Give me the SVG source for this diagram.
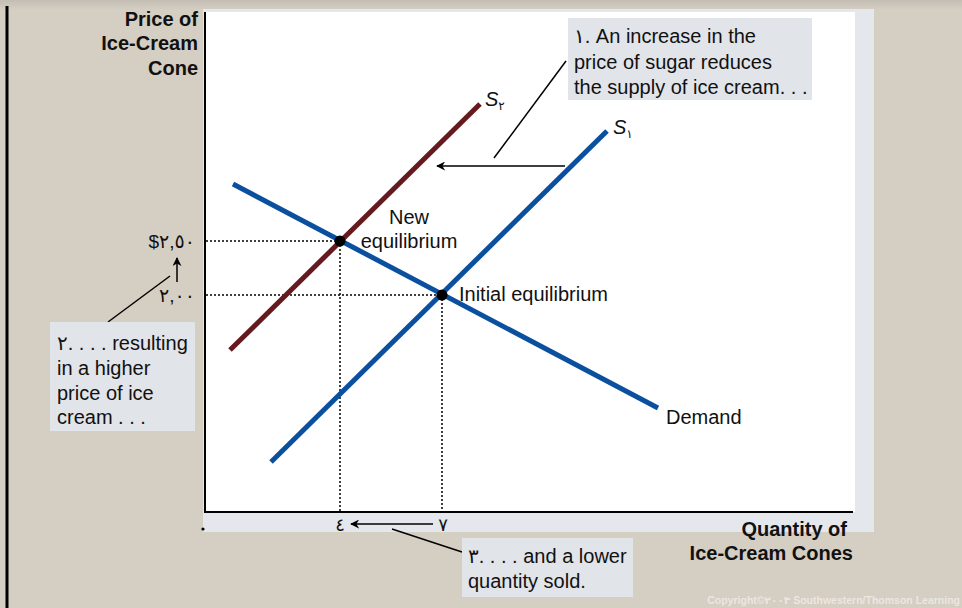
<svg xmlns="http://www.w3.org/2000/svg" width="962" height="608" viewBox="0 0 962 608">
<defs>
<linearGradient id="topg" x1="0" y1="0" x2="0" y2="1"><stop offset="0" stop-color="#c3bdb3"/><stop offset="1" stop-color="#d5cec3"/></linearGradient>
<marker id="ah" viewBox="0 0 10 10" refX="9" refY="5" markerWidth="9" markerHeight="9" markerUnits="userSpaceOnUse" orient="auto"><path d="M0,0 L10,5 L0,10 L3,5 z" fill="#000"/></marker>
</defs>
<style>
text{font-family:"Liberation Sans","DejaVu Sans",Arial,sans-serif;fill:#111;}
.lbl{font-size:20px;}
.b{font-size:20px;font-weight:bold;}
.box{fill:#e1e4e9;}
.dot{stroke:#000;stroke-width:1.5;stroke-dasharray:2 2;fill:none;}
.thin{stroke:#000;stroke-width:1.5;fill:none;}
.curve{stroke-width:5;fill:none;}
</style>
<rect width="962" height="608" fill="#d5cec3"/>
<rect width="962" height="10" fill="url(#topg)"/>
<line x1="7" y1="6" x2="7" y2="608" stroke="#000" stroke-width="3"/>
<rect x="203" y="9" width="671" height="523" fill="#e4e7ec"/>
<rect x="204" y="12" width="651" height="500" fill="#fff"/>
<g id="axes">
<line x1="205" y1="12" x2="205" y2="513" stroke="#000" stroke-width="2"/>
<line x1="204" y1="512" x2="853" y2="512" stroke="#000" stroke-width="2"/>
<circle cx="203" cy="529" r="1.6" fill="#000"/>
<text class="b" x="198" y="26" text-anchor="end">Price of</text>
<text class="b" x="198" y="50" text-anchor="end">Ice-Cream</text>
<text class="b" x="198" y="75" text-anchor="end">Cone</text>
<text class="b" x="847" y="536" text-anchor="end">Quantity of</text>
<text class="b" x="853" y="560" text-anchor="end">Ice-Cream Cones</text>
<text x="195" y="248" text-anchor="end" font-size="19">$٢,٥٠</text>
<text x="195" y="302" text-anchor="end" font-size="19">٢,٠٠</text>
<text x="340" y="531" text-anchor="middle" font-size="18">٤</text>
<text x="443" y="531" text-anchor="middle" font-size="18">٧</text>
</g>
<g id="guides">
<line class="dot" x1="206" y1="241" x2="340" y2="241"/>
<line class="dot" x1="206" y1="295" x2="442" y2="295"/>
<line class="dot" x1="340" y1="241" x2="340" y2="511"/>
<line class="dot" x1="442" y1="295" x2="442" y2="511"/>
</g>
<g id="demand">
<line class="curve" x1="233" y1="184" x2="658" y2="408" stroke="#0b4f9f"/>
<text class="lbl" x="666" y="424">Demand</text>
</g>
<g id="s1">
<line class="curve" x1="271" y1="462" x2="607" y2="131" stroke="#0b4f9f"/>
<text class="lbl" x="613" y="134" font-style="italic">S<tspan font-size="12" dy="4" font-style="normal">١</tspan></text>
</g>
<g id="s2">
<line class="curve" x1="230" y1="350" x2="480" y2="104" stroke="#641a1e"/>
<text class="lbl" x="485" y="106" font-style="italic">S<tspan font-size="12" dy="4" font-style="normal">٢</tspan></text>
</g>
<g id="new-eq">
<circle cx="340" cy="241" r="5.5" fill="#000"/>
<text class="lbl" x="409" y="224" text-anchor="middle">New</text>
<text class="lbl" x="409" y="248" text-anchor="middle">equilibrium</text>
</g>
<g id="init-eq">
<circle cx="442" cy="295" r="5.5" fill="#000"/>
<text class="lbl" x="459" y="301">Initial equilibrium</text>
</g>
<g id="connectors">
<line class="thin" x1="494" y1="158" x2="566" y2="61"/>
<line class="thin" x1="565" y1="166" x2="437" y2="166" marker-end="url(#ah)"/>
<line class="thin" x1="108" y1="322" x2="170" y2="276"/>
<line class="thin" x1="177" y1="282" x2="177" y2="258" marker-end="url(#ah)"/>
<line class="thin" x1="433" y1="524" x2="351" y2="524" marker-end="url(#ah)"/>
<line class="thin" x1="392" y1="529" x2="462" y2="552"/>
</g>
<g id="note1">
<rect class="box" x="568" y="18" width="244" height="82"/>
<text class="lbl" x="574" y="43">١. An increase in the</text>
<text class="lbl" x="574" y="69">price of sugar reduces</text>
<text class="lbl" x="574" y="94">the supply of ice cream. . .</text>
</g>
<g id="note2">
<rect class="box" x="50" y="322" width="145" height="109"/>
<text class="lbl" x="57" y="350">٢. . . . resulting</text>
<text class="lbl" x="57" y="375">in a higher</text>
<text class="lbl" x="57" y="400">price of ice</text>
<text class="lbl" x="57" y="424">cream . . .</text>
</g>
<g id="note3">
<rect class="box" x="462" y="538" width="171" height="59"/>
<text class="lbl" x="468" y="563">٣. . . . and a lower</text>
<text class="lbl" x="468" y="588">quantity sold.</text>
</g>
<text x="960" y="604" text-anchor="end" font-size="10.5" font-weight="bold" style="fill:#ebe7e1">Copyright©٢٠٠٣  Southwestern/Thomson Learning</text>
</svg>
